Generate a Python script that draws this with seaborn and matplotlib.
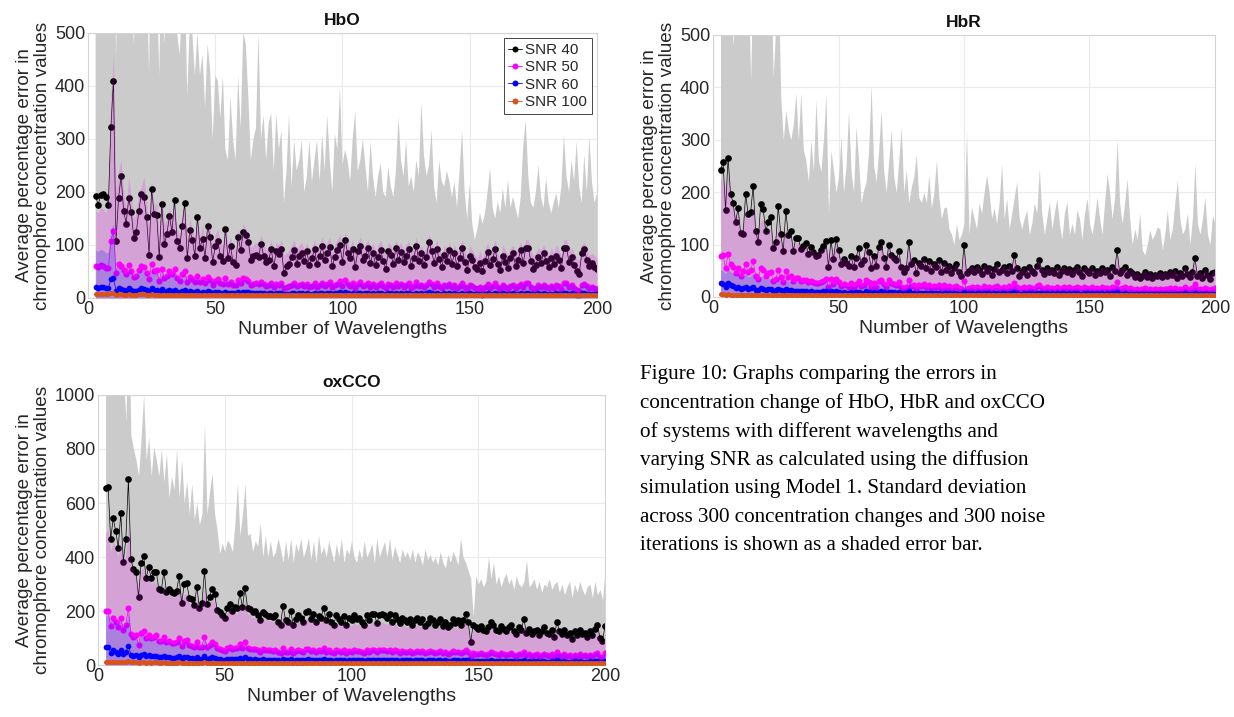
import numpy as np
import matplotlib
matplotlib.use("Agg")
import matplotlib.pyplot as plt
import seaborn as sns
from matplotlib.lines import Line2D

wavelengths = list(range(3, 201))

# ---------------- HbO ----------------
hbo_snr40 = [192,176,194,196,190,176,322,410,107,188,
             230,165,140,188,163,113,125,165,197,190,
             152,82,205,158,157,77,178,102,120,155,
             125,185,108,95,135,180,75,128,110,80,
             153,95,112,75,135,115,68,98,108,80,
             70,130,75,98,67,62,115,90,125,118,
             105,72,80,82,77,102,80,67,72,92,
             60,88,83,92,47,60,65,78,91,65,
             80,85,70,88,62,75,92,65,80,98,
             72,85,96,60,78,90,100,68,110,85,
             75,92,58,88,98,72,80,94,66,85,
             62,78,90,70,55,88,82,64,95,72,
             86,68,80,92,60,75,98,70,84,62,
             78,105,88,66,92,74,58,82,70,90,
             65,84,60,76,95,68,52,80,72,58,
             55,66,50,70,86,62,74,92,64,52,
             80,68,56,75,84,60,72,90,66,94,
             94,70,55,62,78,66,84,70,58,76,
             64,80,72,56,95,95,68,78,62,50,
             45,84,92,72,60,66,58,55]
hbo_snr40_upper = [900,900,900,900,800,700,1400,1600,450,700,
                   800,620,560,700,650,480,560,700,750,700,
                   650,420,800,640,620,420,700,480,560,640,
                   560,700,500,460,540,640,380,520,500,420,
                   500,420,460,360,480,430,300,420,410,340,
                   420,280,260,380,300,260,420,320,500,480,
                   380,260,300,320,500,300,345,260,330,348,
                   240,348,280,317,180,240,348,210,298,240,
                   260,298,200,230,298,220,260,298,220,310,
                   240,345,260,200,310,280,399,250,280,260,
                   220,300,352,240,260,300,250,200,295,230,
                   190,230,254,200,190,248,210,190,240,342,
                   260,230,298,210,230,200,260,230,370,270,
                   230,250,317,210,180,260,220,210,240,220,
                   190,220,170,240,317,200,150,216,140,110,
                   130,160,140,160,200,245,170,150,182,160,
                   207,170,223,170,191,170,150,190,285,336,
                   230,180,170,200,251,190,170,226,180,160,
                   180,197,170,210,308,230,200,260,220,295,
                   210,180,270,200,304,220,180,197]
hbo_snr50 = [60,58,62,60,57,56,107,127,48,65,
             60,52,45,62,50,40,42,52,60,58,
             48,35,65,50,52,32,55,38,42,50,
             45,55,38,32,45,50,30,40,36,30,
             42,30,36,28,40,34,25,32,35,28,
             26,38,26,30,25,24,34,28,38,35,
             32,24,26,28,26,30,26,22,24,28,
             20,26,25,28,18,20,22,25,28,22,
             24,26,22,27,20,23,28,21,24,29,
             22,26,30,20,24,27,32,22,33,26,
             23,28,19,26,30,22,24,28,21,26,
             20,24,28,22,18,26,25,20,29,22,
             26,21,24,28,19,23,30,22,25,20,
             24,31,26,21,28,22,18,25,22,27,
             20,25,19,23,29,21,17,24,22,18,
             17,20,16,21,26,19,22,28,20,16,
             24,21,17,23,25,19,22,27,20,28,
             28,21,17,19,24,20,25,21,18,23,
             19,24,22,17,28,28,21,24,19,15,
             14,25,27,22,18,20,18,17]
hbo_snr50_upper = [165,160,170,168,160,175,380,460,200,240,
                   260,200,170,230,190,150,160,200,210,230,
                   180,130,220,170,180,120,190,140,150,170,
                   150,180,130,120,160,170,110,150,130,110,
                   160,110,140,100,150,130,100,120,130,105,
                   100,140,100,115,95,90,130,110,140,130,
                   120,95,100,105,100,120,100,90,95,110,
                   85,105,100,110,80,85,90,100,110,90,
                   100,105,90,105,85,95,110,90,100,115,
                   95,105,115,85,100,110,120,90,125,105,
                   95,110,85,105,115,95,100,110,90,105,
                   85,100,110,90,80,105,100,85,110,95,
                   105,90,100,110,85,95,115,90,100,85,
                   100,120,105,90,110,95,80,100,90,105,
                   85,100,85,95,110,90,75,100,90,80,
                   75,90,75,90,105,85,95,110,85,75,
                   100,90,80,95,100,85,95,105,90,110,
                   110,90,80,85,95,90,100,90,80,95,
                   85,100,90,80,110,110,90,95,85,75,
                   70,100,105,90,80,85,80,75]
hbo_snr60 = [20,19,20,20,19,19,35,38,14,18,
             17,15,14,18,15,13,13,16,18,17,
             15,12,19,15,16,11,17,12,13,15,
             14,16,12,11,14,15,10,13,12,11,
             13,10,12,10,13,11,9,11,12,10,
             9,12,9,10,9,9,11,10,12,11,
             11,9,9,10,9,10,9,8,9,10,
             8,9,9,10,7,8,8,9,10,8,
             9,9,8,10,8,8,10,8,9,10,
             8,9,10,8,9,10,11,8,11,9,
             8,10,7,9,10,8,9,10,8,9,
             7,9,10,8,7,9,9,8,10,8,
             9,8,9,10,7,8,10,8,9,7,
             9,11,9,8,10,8,7,9,8,10,
             8,9,7,8,10,8,7,9,8,7,
             7,8,6,8,9,7,8,10,8,7,
             9,8,7,8,9,7,8,10,8,10,
             10,8,7,7,9,8,9,8,7,8,
             7,9,8,7,10,10,8,9,7,6,
             6,9,10,8,7,8,7,7]
hbo_snr60_upper = [90,88,92,90,85,86,130,140,50,60,
                   55,48,45,55,48,40,42,50,55,52,
                   46,38,55,46,48,36,50,40,42,46,
                   42,48,38,35,42,45,33,40,38,34,
                   40,33,36,31,38,35,30,33,35,31,
                   30,36,30,32,29,28,34,30,36,34,
                   32,28,29,30,29,31,29,27,28,30,
                   26,29,28,30,25,26,27,28,30,27,
                   28,29,27,29,26,27,30,26,28,31,
                   27,29,31,26,28,30,32,27,33,29,
                   27,30,25,29,31,27,28,30,26,29,
                   25,28,30,27,24,29,28,25,31,27,
                   29,26,28,30,25,27,31,27,29,25,
                   28,32,29,26,30,27,24,29,27,30,
                   25,29,24,27,31,26,23,28,27,24,
                   23,25,22,26,30,24,27,30,25,22,
                   28,26,23,27,29,24,27,30,25,31,
                   31,26,23,24,28,25,29,26,23,27,
                   24,28,27,22,31,31,26,28,24,21,
                   20,29,30,27,23,25,23,22]
hbo_snr100 = [8,7,8,7,8,7,9,10,6,7,
              7,6,6,7,6,6,6,7,7,7,
              6,5,7,6,6,5,6,5,6,6,
              6,6,5,5,6,6,5,6,5,5,
              6,5,5,5,6,5,5,5,5,5,
              5,6,5,5,5,5,6,5,6,5,
              5,5,5,5,5,6,5,5,5,5,
              5,5,5,6,5,5,5,5,6,5,
              5,6,5,5,5,5,6,5,5,6,
              5,5,6,5,5,6,6,5,6,5,
              5,6,5,5,6,5,5,6,5,5,
              5,5,6,5,5,5,5,5,6,5,
              5,5,5,6,5,5,6,5,5,5,
              5,6,5,5,6,5,5,5,5,6,
              5,5,5,5,6,5,5,5,5,5,
              5,5,5,5,6,5,5,6,5,5,
              5,5,5,5,5,5,5,6,5,6,
              6,5,5,5,5,5,5,5,5,5,
              5,5,5,5,6,6,5,5,5,5,
              5,5,6,5,5,5,5,5]

# ---------------- HbR ----------------
hbr_snr40 = [242,257,166,265,197,180,143,170,122,120,
             197,158,162,212,125,105,178,168,125,143,
             152,93,105,173,120,87,165,118,125,88,
             113,112,92,98,103,82,95,85,78,80,
             90,97,107,58,108,72,110,90,62,72,
             65,60,78,58,75,93,62,70,100,85,
             55,78,60,95,105,75,58,100,80,75,
             70,88,58,48,55,105,62,70,45,65,
             60,72,55,68,50,62,58,70,48,65,
             52,60,45,55,62,48,40,99,45,50,
             55,48,58,52,44,60,50,56,42,54,
             62,48,52,58,45,60,50,80,55,40,
             48,54,42,58,50,46,60,70,52,44,
             55,48,52,46,58,42,50,56,48,54,
             44,52,58,48,40,55,50,46,56,42,
             50,45,55,48,52,40,58,50,90,45,
             52,58,42,50,46,38,44,36,40,48,
             38,44,36,42,40,46,38,44,40,48,
             42,50,36,46,40,55,44,38,48,74,
             40,46,36,52,42,34,46,48]
hbr_snr40_upper = [900,800,700,900,560,480,620,700,900,820,
                   700,600,414,640,620,500,560,700,560,650,
                   620,420,520,600,380,300,357,320,300,330,
                   389,300,389,280,261,220,300,240,376,260,
                   240,300,389,160,280,242,200,230,306,200,
                   250,354,240,200,325,260,180,204,220,280,
                   404,250,220,280,357,240,200,260,319,230,
                   200,260,325,200,242,180,210,230,271,190,
                   180,200,180,233,170,200,261,190,150,170,
                   172,130,120,99,140,110,120,140,316,120,
                   172,150,130,180,160,200,233,200,150,170,
                   140,180,255,150,188,130,160,190,220,150,
                   130,150,166,120,140,180,160,245,160,120,
                   150,182,130,160,188,140,110,160,182,120,
                   140,120,166,150,110,160,188,140,120,150,
                   191,150,120,180,236,200,150,190,300,180,
                   140,180,226,150,100,130,110,160,90,80,
                   100,128,110,120,134,130,90,120,166,110,
                   130,180,223,150,120,130,160,100,150,255,
                   140,120,150,191,120,100,156,140]
hbr_snr50 = [78,80,55,82,63,58,45,55,40,50,
             62,48,52,68,40,35,55,52,40,46,
             48,30,34,52,38,28,50,38,40,30,
             36,36,30,32,33,28,31,29,26,27,
             29,31,34,20,34,24,35,29,21,24,
             22,20,26,20,25,30,21,23,32,28,
             19,26,20,30,33,25,20,32,26,25,
             23,28,20,17,19,33,21,23,16,22,
             21,24,19,23,18,21,20,23,17,22,
             18,21,16,19,21,17,15,30,16,18,
             19,17,20,18,16,21,18,19,15,19,
             21,17,18,20,16,21,18,26,19,15,
             17,19,15,20,18,16,21,23,18,16,
             19,17,18,16,20,15,18,19,17,19,
             16,18,20,17,15,19,18,16,19,15,
             18,16,19,17,18,15,20,18,28,16,
             18,20,15,18,16,14,16,13,15,17,
             14,16,13,15,14,16,14,16,15,17,
             15,18,13,16,14,19,16,14,17,24,
             15,16,13,18,15,12,16,17]
hbr_snr50_upper = [230,220,200,235,180,175,150,160,130,130,
                   170,150,150,175,130,115,150,145,120,130,
                   130,100,105,140,115,95,130,110,115,90,
                   105,105,92,95,98,85,92,88,82,84,
                   88,92,100,70,100,78,102,88,70,76,
                   72,68,80,66,78,90,70,74,100,86,
                   65,80,68,92,100,78,66,98,82,78,
                   74,88,66,58,62,100,68,74,55,70,
                   66,74,62,72,58,68,64,72,56,68,
                   58,64,52,60,66,55,48,90,52,56,
                   60,54,62,58,50,64,56,60,48,58,
                   64,54,56,62,50,64,56,78,58,46,
                   54,58,48,62,56,52,64,70,56,50,
                   58,54,56,50,62,48,56,60,52,58,
                   50,56,60,54,46,58,56,52,60,48,
                   54,50,58,54,56,46,60,56,82,50,
                   56,60,48,54,52,44,50,42,46,52,
                   44,50,42,48,46,50,44,50,46,52,
                   48,54,42,50,46,58,50,44,52,72,
                   46,50,42,56,48,40,50,52]
hbr_snr60 = [26,24,20,26,22,21,18,20,16,17,
             19,16,17,20,14,13,17,16,14,15,
             15,12,13,16,13,11,15,13,13,11,
             12,12,11,11,12,10,11,10,10,10,
             10,11,12,8,12,9,12,10,8,9,
             8,8,9,8,9,10,8,8,11,9,
             7,9,8,10,11,9,8,10,9,9,
             8,9,8,7,7,11,8,8,6,8,
             8,8,7,8,7,8,7,8,6,8,
             7,8,6,7,8,6,6,10,6,7,
             7,6,7,7,6,7,7,7,6,7,
             7,6,7,7,6,7,7,9,7,6,
             6,7,6,7,7,6,7,8,7,6,
             7,6,7,6,7,6,7,7,6,7,
             6,7,7,6,6,7,7,6,7,6,
             7,6,7,6,7,6,7,7,9,6,
             6,7,6,6,6,5,6,5,6,6,
             5,6,5,6,5,6,5,6,6,6,
             6,6,5,6,5,7,6,5,6,8,
             6,6,5,6,6,5,6,6]
hbr_snr60_upper = [52,50,45,55,48,46,42,45,38,40,
                   44,38,40,46,34,32,40,38,33,35,
                   36,28,30,38,32,27,36,30,31,27,
                   30,30,27,28,28,25,27,26,24,25,
                   26,27,29,21,29,23,30,26,20,22,
                   21,20,23,19,22,26,20,21,27,24,
                   18,23,19,26,28,22,19,27,23,22,
                   21,24,19,16,18,28,20,21,15,20,
                   19,21,18,20,17,19,18,21,16,20,
                   17,19,15,18,19,16,14,26,15,17,
                   18,16,19,17,15,19,17,18,14,17,
                   19,16,17,18,15,19,17,23,17,14,
                   16,17,14,18,17,15,19,21,17,15,
                   17,16,17,15,18,14,17,18,16,17,
                   15,17,18,16,14,17,17,15,18,14,
                   16,15,17,16,17,14,18,17,25,15,
                   16,18,14,16,15,13,15,12,14,16,
                   13,15,12,14,13,15,13,15,14,16,
                   14,16,12,15,13,17,15,13,16,21,
                   14,15,12,16,14,11,15,16]
hbr_snr100 = [5,5,4,5,4,4,4,4,4,4,
              4,4,4,4,4,3,4,4,4,4,
              4,3,3,4,4,3,4,3,4,3,
              3,3,3,3,3,3,3,3,3,3,
              3,3,4,3,3,3,3,3,3,3,
              3,3,3,3,3,3,3,3,4,3,
              3,3,3,3,4,3,3,3,3,3,
              3,3,3,3,3,4,3,3,3,3,
              3,3,3,3,3,3,3,3,3,3,
              3,3,3,3,3,3,3,4,3,3,
              3,3,3,3,3,3,3,3,3,3,
              3,3,3,3,3,3,3,3,3,3,
              3,3,3,3,3,3,3,3,3,3,
              3,3,3,3,3,3,3,3,3,3,
              3,3,3,3,3,3,3,3,3,3,
              3,3,3,3,3,3,3,3,4,3,
              3,3,3,3,3,3,3,3,3,3,
              3,3,3,3,3,3,3,3,3,3,
              3,3,3,3,3,3,3,3,3,3,
              3,3,3,3,3,3,3,3]

# ---------------- oxCCO ----------------
ox_snr40 = [657,660,465,543,496,435,562,383,467,688,
            391,354,343,253,376,405,323,362,323,346,
            346,280,278,346,272,281,270,265,275,330,
            228,300,305,250,245,222,290,210,228,348,
            226,252,283,262,205,195,185,175,210,225,
            200,215,210,265,215,285,212,208,195,200,
            185,165,195,190,180,182,178,185,160,150,
            220,165,160,200,150,170,185,175,160,195,
            200,170,190,160,180,175,212,165,190,160,
            150,185,170,160,180,150,175,165,185,170,
            175,160,150,185,165,190,190,155,185,190,
            185,175,190,160,185,170,155,175,165,160,
            170,150,165,175,160,170,145,155,175,165,
            150,160,170,145,160,140,150,170,155,165,
            150,165,190,160,86,150,140,135,145,130,
            125,140,160,150,130,125,145,135,125,140,
            150,125,115,140,130,170,120,135,115,125,
            130,110,125,140,120,115,130,105,160,125,
            115,130,110,120,95,125,110,130,115,120,
            105,125,110,135,150,100,90,144]
ox_snr40_upper = [1400,1500,1300,1600,1400,1200,1500,1100,900,1300,
                  850,800,760,700,840,1000,760,845,700,809,
                  760,700,800,680,784,620,700,650,800,620,
                  760,600,680,560,673,540,600,520,560,895,
                  560,640,710,560,500,414,450,420,463,450,
                  420,525,673,480,560,673,480,488,420,460,
                  440,525,400,480,401,460,400,420,470,430,
                  380,460,390,470,380,450,420,470,400,430,
                  470,390,460,380,480,410,440,400,460,420,
                  380,450,400,470,380,430,410,460,400,380,
                  430,390,460,400,420,450,380,470,400,430,
                  457,400,470,390,440,410,380,430,400,420,
                  390,430,380,420,400,370,430,390,410,380,
                  400,370,420,380,360,410,380,420,400,370,
                  470,400,380,350,320,180,330,300,320,290,
                  310,401,320,380,300,330,290,320,340,300,
                  320,280,330,300,290,310,389,290,300,320,
                  280,310,270,300,290,320,280,300,310,270,
                  300,260,290,310,250,300,270,310,280,260,
                  290,300,250,310,260,280,240,352]
ox_snr50 = [200,200,145,175,160,140,175,130,150,210,
            115,105,110,75,120,125,100,110,100,105,
            110,90,88,105,85,90,82,80,85,100,
            70,90,92,75,72,68,85,65,68,105,
            68,75,85,78,62,58,55,52,62,66,
            60,64,62,78,64,85,62,60,58,60,
            56,50,58,56,54,55,53,55,48,45,
            64,50,48,60,46,51,55,53,48,58,
            60,51,57,48,54,52,63,50,57,48,
            45,55,51,48,54,45,52,50,55,51,
            52,48,45,55,50,57,57,47,55,57,
            55,52,57,48,55,51,46,52,50,48,
            51,45,50,52,48,51,44,47,52,50,
            45,48,51,44,48,42,45,51,47,50,
            44,50,56,48,28,45,42,41,44,39,
            38,42,48,45,39,38,44,41,38,42,
            45,38,35,42,39,50,36,41,35,38,
            39,33,38,42,36,35,39,32,48,38,
            35,39,33,36,29,38,33,39,35,36,
            32,38,33,40,45,30,28,43]
ox_snr50_upper = [490,500,420,460,430,400,470,380,410,520,
                  380,340,330,280,350,360,310,330,300,310,
                  300,270,260,300,255,260,255,250,255,290,
                  230,260,265,230,220,215,250,210,215,290,
                  210,225,245,230,195,185,180,170,195,205,
                  185,195,190,225,195,240,190,185,175,180,
                  170,155,175,170,165,165,160,165,150,140,
                  190,150,150,175,140,155,165,160,150,170,
                  175,155,165,150,160,155,180,150,165,145,
                  140,160,150,145,155,140,150,145,160,150,
                  150,140,135,160,145,160,160,140,160,160,
                  155,150,160,140,155,145,135,150,145,140,
                  145,130,140,150,140,145,130,135,150,140,
                  130,140,145,130,140,125,130,145,135,140,
                  130,145,160,140,90,130,125,120,125,115,
                  110,120,135,130,115,110,125,120,110,120,
                  130,110,100,120,115,140,105,115,100,110,
                  115,100,110,120,105,100,115,95,135,110,
                  100,115,95,105,85,110,95,115,100,105,
                  95,110,95,115,125,90,80,120]
ox_snr60 = [65,66,45,55,50,42,55,40,48,72,
            38,35,36,28,38,40,33,36,33,35,
            35,30,29,34,28,30,27,27,28,33,
            24,30,31,26,25,24,29,23,24,34,
            24,26,29,27,22,21,20,19,22,23,
            21,22,22,27,22,28,22,21,20,21,
            20,18,21,20,19,19,19,19,17,16,
            22,18,17,21,16,18,19,19,17,20,
            21,18,20,17,19,18,22,18,20,17,
            16,19,18,17,19,16,18,18,19,18,
            18,17,16,19,18,20,20,17,19,20,
            19,18,20,17,19,18,16,18,18,17,
            18,16,18,18,17,18,16,17,18,18,
            16,17,18,16,17,15,16,18,17,18,
            16,18,20,17,11,16,15,15,16,14,
            14,15,17,16,14,14,16,15,14,15,
            16,14,13,15,14,18,13,15,13,14,
            14,12,14,15,13,13,14,12,17,14,
            13,14,12,13,11,14,12,14,13,13,
            12,14,12,15,16,11,10,15]
ox_snr60_upper = [180,185,150,170,160,150,170,140,155,190,
                  110,100,105,80,110,115,95,100,95,98,
                  100,88,85,98,82,86,80,78,82,95,
                  72,86,88,74,72,68,82,66,68,98,
                  68,74,80,76,64,60,58,56,62,66,
                  62,64,63,75,64,80,63,61,60,61,
                  58,54,60,58,56,57,55,57,52,50,
                  64,53,52,61,50,54,57,56,52,59,
                  60,54,58,52,56,55,62,53,58,52,
                  50,56,54,52,56,50,55,53,57,54,
                  55,52,50,57,53,58,58,51,57,58,
                  57,55,58,52,57,54,50,55,53,52,
                  54,50,53,55,52,54,49,51,55,53,
                  50,52,54,49,52,47,50,54,51,53,
                  49,53,57,52,36,50,47,46,49,45,
                  44,47,52,49,45,44,49,46,44,47,
                  49,44,41,47,45,53,42,46,41,44,
                  45,40,44,47,42,41,45,39,51,44,
                  41,45,39,42,36,44,39,45,41,42,
                  39,44,39,46,49,37,35,47]
ox_snr100 = [13,13,11,12,12,11,12,10,11,14,
             10,10,10,9,10,10,9,10,9,10,
             10,9,9,10,9,9,9,9,9,10,
             8,9,9,8,8,8,9,8,8,10,
             8,8,9,8,8,8,8,7,8,8,
             8,8,8,9,8,9,8,8,8,8,
             8,7,8,8,8,8,8,8,7,7,
             8,7,7,8,7,7,8,8,7,8,
             8,7,8,7,8,7,8,7,8,7,
             7,8,7,7,8,7,7,7,8,7,
             7,7,7,8,7,8,8,7,8,8,
             8,7,8,7,8,7,7,7,7,7,
             7,7,7,8,7,7,7,7,8,7,
             7,7,7,7,7,7,7,8,7,7,
             7,8,8,7,6,7,7,7,7,7,
             7,7,7,7,7,7,7,7,7,7,
             7,7,7,7,7,8,7,7,7,7,
             7,7,7,7,7,7,7,7,8,7,
             7,7,7,7,6,7,7,7,7,7,
             7,7,7,7,8,7,6,7]

series_labels = ["SNR 40", "SNR 50", "SNR 60", "SNR 100"]
titles = ["HbO", "HbR", "oxCCO"]
x_ticks = [0, 50, 100, 150, 200]
caption_lines = [
    "Figure 10: Graphs comparing the errors in",
    "concentration change of HbO, HbR and oxCCO",
    "of systems with different wavelengths and",
    "varying SNR as calculated using the diffusion",
    "simulation using Model 1. Standard deviation",
    "across 300 concentration changes and 300 noise",
    "iterations is shown as a shaded error bar.",
]

sns.set_theme(style="whitegrid")
plt.rcParams["font.family"] = ["Liberation Sans", "DejaVu Sans"]

C40, C50, C60, C100 = "#000000", "#ff00ff", "#0000ff", "#d95319"

fig = plt.figure(figsize=(12.34, 7.17), dpi=100)
fig.patch.set_facecolor("white")
ax1 = fig.add_axes([0.0713, 0.5844, 0.4125, 0.3696])
ax2 = fig.add_axes([0.5778, 0.5858, 0.4068, 0.3654])
ax3 = fig.add_axes([0.0794, 0.0725, 0.4109, 0.3766])


def panel(ax, title, m40, u40, m50, u50, m60, u60, m100, ymax, ystep, legend=False):
    x = np.array(wavelengths)
    for arr in (m40, u40, m50, u50, m60, u60, m100):
        assert len(arr) == len(x), (title, len(arr))
    ax.fill_between(x, 0, u40, color="#cbcbcb", lw=0, zorder=1)
    sns.lineplot(x=x, y=m40, color=C40, lw=0.5, marker="o", markersize=4.8,
                 markeredgewidth=0, ax=ax, zorder=2, estimator=None, sort=False)
    ax.fill_between(x, 0, u50, color=C50, alpha=0.2, lw=0, zorder=3)
    sns.lineplot(x=x, y=m50, color=C50, lw=0.5, marker="o", markersize=4.4,
                 markeredgewidth=0, ax=ax, zorder=4, estimator=None, sort=False)
    ax.fill_between(x, 0, u60, color=C60, alpha=0.2, lw=0, zorder=5)
    sns.lineplot(x=x, y=m60, color=C60, lw=0.5, marker="o", markersize=4.1,
                 markeredgewidth=0, ax=ax, zorder=6, estimator=None, sort=False)
    sns.lineplot(x=x, y=m100, color=C100, lw=0.5, marker="o", markersize=3.6,
                 markeredgewidth=0, ax=ax, zorder=7, estimator=None, sort=False)
    ax.set_xlim(0, 200)
    ax.set_ylim(0, ymax)
    ax.set_xticks(x_ticks)
    ax.set_yticks(np.arange(0, ymax + 1, ystep))
    ax.grid(True, color="#ebebeb", lw=0.8)
    ax.set_axisbelow(True)
    for s in ax.spines.values():
        s.set_color("#d4d4d4")
        s.set_linewidth(0.8)
    ax.tick_params(axis="both", labelsize=13, colors="#262626", length=0, pad=2)
    ax.set_title(title, fontsize=12.5, fontweight="bold", pad=6, color="#111111")
    ax.set_xlabel("Number of Wavelengths", fontsize=14, color="#262626", labelpad=2)
    ax.set_ylabel("Average percentage error in\nchromophore concentration values",
                  fontsize=13.6, color="#262626", labelpad=3, linespacing=1.05)
    if legend:
        handles = [Line2D([0], [0], color=c, lw=0.6, marker="o", markersize=4.3,
                          markeredgewidth=0) for c in (C40, C50, C60, C100)]
        leg = ax.legend(handles, series_labels, loc="upper right", fontsize=11,
                        frameon=True, fancybox=False, edgecolor="#444444",
                        framealpha=1, borderpad=0.3, labelspacing=0.22,
                        handlelength=0.9, handletextpad=0.2, borderaxespad=0.35)
        leg.get_frame().set_linewidth(0.7)
        leg.set_zorder(10)


panel(ax1, titles[0], hbo_snr40, hbo_snr40_upper, hbo_snr50, hbo_snr50_upper,
      hbo_snr60, hbo_snr60_upper, hbo_snr100, 500, 100, legend=True)
panel(ax2, titles[1], hbr_snr40, hbr_snr40_upper, hbr_snr50, hbr_snr50_upper,
      hbr_snr60, hbr_snr60_upper, hbr_snr100, 500, 100)
panel(ax3, titles[2], ox_snr40, ox_snr40_upper, ox_snr50, ox_snr50_upper,
      ox_snr60, ox_snr60_upper, ox_snr100, 1000, 200)

y0, dy = 375, 28.5
for i, line in enumerate(caption_lines):
    fig.text(640 / 1234, 1 - (y0 + i * dy) / 717, line, ha="left", va="center",
             fontsize=15.2, family=["Liberation Serif", "DejaVu Serif"], color="black")

fig.savefig("out.png", dpi=100, facecolor="white")
